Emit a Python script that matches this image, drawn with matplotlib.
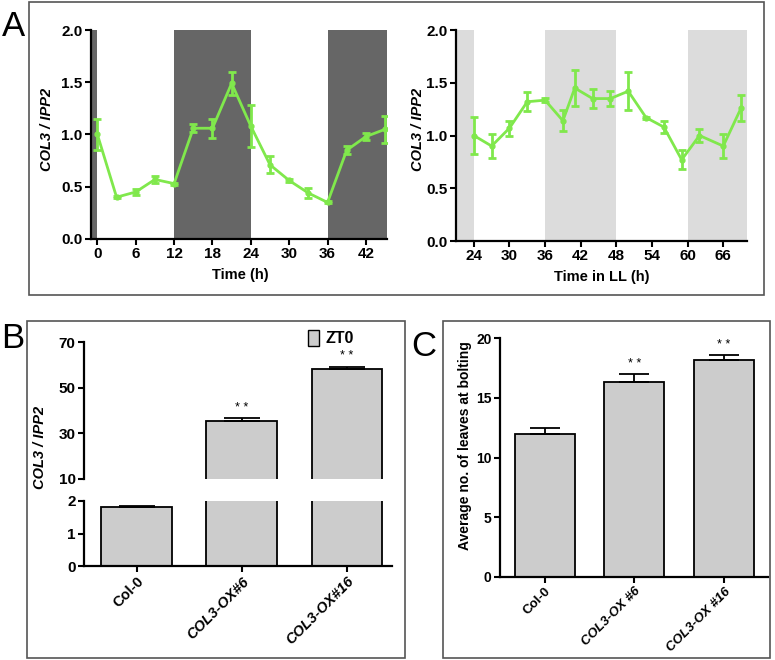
import matplotlib
matplotlib.use('Agg')
import matplotlib.pyplot as plt
from matplotlib.patches import Rectangle, Patch

plt.rcParams['font.family'] = ['Liberation Sans', 'DejaVu Sans']
plt.rcParams['font.weight'] = 'bold'

# panel A, entrained (LD) time course
ld_time = [0, 3, 6, 9, 12, 15, 18, 21, 24, 27, 30, 33, 36, 39, 42, 45]
ld_mean = [1.00, 0.40, 0.45, 0.57, 0.53, 1.06, 1.06, 1.49, 1.08, 0.71, 0.56, 0.44, 0.35, 0.85, 0.98, 1.05]
ld_err = [0.15, 0.01, 0.03, 0.035, 0.01, 0.04, 0.09, 0.11, 0.20, 0.08, 0.01, 0.05, 0.01, 0.04, 0.035, 0.13]
ld_dark = [(-1, 0), (12, 24), (36, 48)]

# panel A, free running (LL) time course
ll_time = [24, 27, 30, 33, 36, 39, 41, 44, 47, 50, 53, 56, 59, 62, 66, 69]
ll_mean = [1.00, 0.90, 1.07, 1.32, 1.335, 1.14, 1.45, 1.35, 1.35, 1.42, 1.17, 1.08, 0.77, 1.00, 0.90, 1.26]
ll_err = [0.18, 0.11, 0.07, 0.09, 0.02, 0.10, 0.17, 0.09, 0.07, 0.18, 0.01, 0.06, 0.09, 0.06, 0.11, 0.12]
ll_subj_night = [(21, 24), (36, 48), (60, 72)]

# panel B, expression at ZT0
lines_b = ['Col-0', 'COL3-OX#6', 'COL3-OX#16']
expr_mean = [1.82, 35.5, 58.0]
expr_err = [0.02, 1.2, 1.2]

# panel C, leaf number at bolting
lines_c = ['Col-0', 'COL3-OX #6', 'COL3-OX #16']
leaves_mean = [12.0, 16.3, 18.2]
leaves_err = [0.5, 0.7, 0.4]

W, H = 775, 660
fig = plt.figure(figsize=(W / 100, H / 100), dpi=100)

def px_axes(l, t, r, b):
    return fig.add_axes([l / W, 1 - b / H, (r - l) / W, (b - t) / H])

def px(x, y):
    return x / W, 1 - y / H

def style(ax, fs=10):
    for s in ['top', 'right']:
        ax.spines[s].set_visible(False)
    for s in ['left', 'bottom']:
        ax.spines[s].set_linewidth(1.6)
    ax.tick_params(width=1.5, length=4, labelsize=fs, pad=2)
    for lab in ax.get_xticklabels() + ax.get_yticklabels():
        lab.set_fontweight('bold')

green = '#80e84c'
frame_col = '#555555'

# panel frames
for (l, t, r, b) in [(29, 2, 764, 295), (27, 321, 405, 658), (443, 321, 770, 658)]:
    fig.patches.append(Rectangle(px(l, b), (r - l) / W, (b - t) / H, transform=fig.transFigure,
                                 fill=False, edgecolor=frame_col, linewidth=1.2))

# A left
ax1 = px_axes(91, 30, 387, 239)
for a, b in ld_dark:
    ax1.axvspan(a, b, color='#666666', lw=0, zorder=0)
ax1.errorbar(ld_time, ld_mean, yerr=ld_err, color=green, lw=2, marker='o', ms=3.5,
             capsize=3, capthick=2, elinewidth=2)
ax1.set_xlim(-1, 45.3)
ax1.set_ylim(0, 2)
ax1.set_xticks(range(0, 43, 6))
ax1.set_yticks([0, 0.5, 1.0, 1.5, 2.0])
ax1.set_yticklabels(['0.0', '0.5', '1.0', '1.5', '2.0'])
style(ax1, 11)
fig.text(*px(240, 275), 'Time (h)', ha='center', va='center', fontsize=10.5, fontweight='bold')
fig.text(*px(47, 129), 'COL3 / IPP2', ha='center', va='center', rotation=90, fontsize=10.5,
         fontweight='bold', style='italic')

# A right
ax2 = px_axes(456, 30, 747, 241)
for a, b in ll_subj_night:
    ax2.axvspan(a, b, color='#dcdcdc', lw=0, zorder=0)
ax2.errorbar(ll_time, ll_mean, yerr=ll_err, color=green, lw=2, marker='o', ms=3.5,
             capsize=3, capthick=2, elinewidth=2)
ax2.set_xlim(21, 70)
ax2.set_ylim(0, 2)
ax2.set_xticks(range(24, 67, 6))
ax2.set_yticks([0, 0.5, 1.0, 1.5, 2.0])
ax2.set_yticklabels(['0.0', '0.5', '1.0', '1.5', '2.0'])
style(ax2, 11)
fig.text(*px(602, 277), 'Time in LL (h)', ha='center', va='center', fontsize=10.5, fontweight='bold')
fig.text(*px(418, 129), 'COL3 / IPP2', ha='center', va='center', rotation=90, fontsize=10.5,
         fontweight='bold', style='italic')

# B, broken axis
xb = list(range(len(lines_b)))
bt = px_axes(84, 342, 392, 479)
bb = px_axes(84, 501, 392, 566)
for ax in (bt, bb):
    ax.bar(xb, expr_mean, width=0.67, color='#cccccc', edgecolor='black', linewidth=1.3)
    ax.set_xlim(-0.5, 2.43)
    ax.errorbar(xb, expr_mean, yerr=[[0] * 3, expr_err], fmt='none', ecolor='black', elinewidth=1.3,
                capsize=13, capthick=1.3)
bt.set_ylim(10, 70)
bt.set_yticks([10, 30, 50, 70])
bb.set_ylim(0, 2)
bb.set_yticks([0, 1, 2])
style(bt, 11)
style(bb, 11)
bt.spines['bottom'].set_visible(False)
bt.set_xticks([])
bb.set_xticks(xb)
bb.set_xticklabels(lines_b, rotation=45, ha='right', rotation_mode='anchor')
for lab in bb.get_xticklabels():
    lab.set_fontweight('bold')
    lab.set_fontsize(10.5)
    if lab.get_text().startswith('COL3'):
        lab.set_style('italic')
for i in (1, 2):
    bt.annotate('* *', (xb[i], expr_mean[i] + expr_err[i]), xytext=(0, 3), textcoords='offset points',
                ha='center', va='bottom', fontsize=9, fontweight='normal')
fig.text(*px(40, 447), 'COL3 / IPP2', ha='center', va='center', rotation=90, fontsize=10.5,
         fontweight='bold', style='italic')
bt.legend(handles=[Patch(facecolor='#cccccc', edgecolor='black', label='ZT0')], loc='center left',
          bbox_to_anchor=px(300, 338), bbox_transform=fig.transFigure, frameon=False,
          handlelength=0.7, handleheight=1.2, handletextpad=0.4, borderpad=0,
          prop={'weight': 'bold', 'size': 11.5})

# C
xc = list(range(len(lines_c)))
axc = px_axes(500, 338, 768, 577)
axc.bar(xc, leaves_mean, width=0.67, color='#cccccc', edgecolor='black', linewidth=1.3)
axc.errorbar(xc, leaves_mean, yerr=[[0] * 3, leaves_err], fmt='none', ecolor='black', elinewidth=1.3,
             capsize=11, capthick=1.3)
axc.set_xlim(-0.5, 2.49)
axc.set_ylim(0, 20)
axc.set_yticks([0, 5, 10, 15, 20])
style(axc, 10)
axc.set_xticks(xc)
axc.set_xticklabels(lines_c, rotation=45, ha='right', rotation_mode='anchor')
for lab in axc.get_xticklabels():
    lab.set_fontweight('bold')
    lab.set_fontsize(9.5)
    if lab.get_text().startswith('COL3'):
        lab.set_style('italic')
for i in (1, 2):
    axc.annotate('* *', (xc[i], leaves_mean[i] + leaves_err[i]), xytext=(0, 3), textcoords='offset points',
                 ha='center', va='bottom', fontsize=9, fontweight='normal')
fig.text(*px(465, 446), 'Average no. of leaves at bolting', ha='center', va='center', rotation=90,
         fontsize=10, fontweight='bold')

# panel letters
fig.text(*px(13, 26), 'A', ha='center', va='center', fontsize=25, fontweight='normal')
fig.text(*px(13, 339), 'B', ha='center', va='center', fontsize=25, fontweight='normal')
fig.text(*px(424, 347), 'C', ha='center', va='center', fontsize=25, fontweight='normal')

fig.savefig('out.png', dpi=100)
